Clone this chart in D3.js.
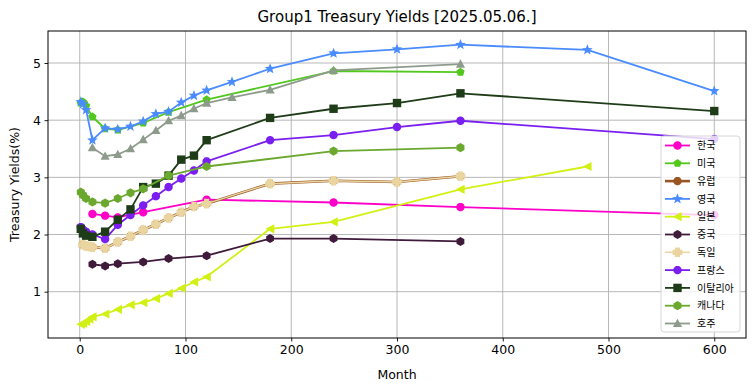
<!DOCTYPE html>
<html>
<head>
<meta charset="utf-8">
<script src="https://cdn.jsdelivr.net/npm/d3@7"></script>
<style>
html,body{margin:0;padding:0;background:#fff;}
svg{display:block;font-family:"DejaVu Sans",sans-serif;}
</style>
</head>
<body>
<svg id="chart" width="755" height="391"></svg>
<script>
// ---- data (months to maturity, yield %) ----
const koreaMonths = [12,24,36,60,120,240,360,600];
const koreaYields = [2.36,2.33,2.30,2.39,2.61,2.56,2.48,2.34];

const usMonths = [1,2,3,4,6,12,24,36,60,84,120,240,360];
const usYields = [4.30,4.32,4.32,4.30,4.25,4.06,3.85,3.83,3.95,4.14,4.36,4.86,4.84];

const euMonths = [3,6,9,12,24,36,48,60,72,84,96,108,120,180,240,300,360];
const euYields = [1.82,1.80,1.79,1.78,1.76,1.87,1.97,2.08,2.18,2.29,2.39,2.49,2.54,2.89,2.94,2.92,3.02];

const ukMonths = [1,3,6,12,24,36,48,60,72,84,96,108,120,144,180,240,300,360,480,600];
const ukYields = [4.32,4.28,4.18,3.65,3.86,3.84,3.89,3.98,4.11,4.15,4.31,4.43,4.52,4.67,4.90,5.17,5.24,5.32,5.23,4.51];

const japanMonths = [1,3,6,9,12,24,36,48,60,72,84,96,108,120,180,240,360,480];
const japanYields = [0.43,0.45,0.48,0.52,0.56,0.61,0.69,0.77,0.81,0.88,0.97,1.06,1.17,1.26,2.10,2.22,2.79,3.19];

const chinaMonths = [12,24,36,60,84,120,180,240,360];
const chinaYields = [1.48,1.45,1.49,1.52,1.58,1.63,1.93,1.93,1.88];

const germanyMonths = [3,6,9,12,24,36,48,60,72,84,96,108,120,180,240,300,360];
const germanyYields = [1.82,1.80,1.79,1.78,1.76,1.87,1.97,2.08,2.18,2.29,2.39,2.49,2.54,2.89,2.94,2.92,3.02];

const franceMonths = [1,3,6,12,24,36,48,60,72,84,96,108,120,180,240,300,360,600];
const franceYields = [2.13,2.09,2.05,2.00,1.92,2.17,2.34,2.51,2.67,2.83,2.98,3.12,3.28,3.65,3.74,3.88,3.99,3.67];

const italyMonths = [1,3,6,12,24,36,48,60,72,84,96,108,120,180,240,300,360,600];
const italyYields = [2.10,2.02,1.98,1.96,2.05,2.26,2.44,2.83,2.89,3.03,3.31,3.38,3.65,4.04,4.20,4.30,4.47,4.16];

const canadaMonths = [1,3,6,12,24,36,48,60,84,120,240,360];
const canadaYields = [2.74,2.69,2.63,2.57,2.55,2.63,2.73,2.80,3.03,3.19,3.46,3.52];

const australiaMonths = [12,24,36,48,60,72,84,96,108,120,144,180,240,360];
const australiaYields = [3.52,3.37,3.40,3.50,3.66,3.82,3.99,4.08,4.20,4.30,4.40,4.53,4.87,4.98];

const seriesNames = ["한국","미국","유럽","영국","일본","중국","독일","프랑스","이탈리아","캐나다","호주"];
const xTicks = [0,100,200,300,400,500,600];
const yTicks = [1,2,3,4,5];
const titleText = "Group1 Treasury Yields [2025.05.06.]";

// ---- styles ----
const colors = ["#ff00c8","#52c81e","#995522","#4a8cff","#d2f014","#3f1a3a","#ead5a0","#7a1ff0","#1e3c18","#6aa82e","#8e9b8c"];
const markers = ["circle","pentagon","circle","star","tleft","hexagon","plus","circle","square","hexagon2","tup"];
const lineWidths = [1.8,1.8,2.6,1.8,1.8,1.8,1.5,1.8,1.8,1.8,1.8];

const series = [
  [koreaMonths,koreaYields],[usMonths,usYields],[euMonths,euYields],[ukMonths,ukYields],
  [japanMonths,japanYields],[chinaMonths,chinaYields],[germanyMonths,germanyYields],
  [franceMonths,franceYields],[italyMonths,italyYields],[canadaMonths,canadaYields],
  [australiaMonths,australiaYields]
].map((s,i)=>({name:seriesNames[i], color:colors[i], marker:markers[i], lw:lineWidths[i],
  pts:s[0].map((m,j)=>({x:m,y:s[1][j]}))}));

// ---- layout ----
const W=755,H=391;
const m={left:48,right:9,top:31,bottom:53};
const pw=W-m.left-m.right, ph=H-m.top-m.bottom;
const svg=d3.select("#chart");

const x=d3.scaleLinear().domain([-30,630]).range([m.left,m.left+pw]);
const y=d3.scaleLinear().domain([0.19,5.56]).range([m.top+ph,m.top]);

function poly(n,r,rot){
  const p=[];
  for(let k=0;k<n;k++){const a=rot+k*2*Math.PI/n;p.push([r*Math.cos(a),r*Math.sin(a)]);}
  return "M"+p.map(q=>q[0].toFixed(2)+","+q[1].toFixed(2)).join("L")+"Z";
}
function star(ro,ri){
  const p=[];
  for(let k=0;k<10;k++){const r=k%2?ri:ro;const a=-Math.PI/2+k*Math.PI/5;p.push([r*Math.cos(a),r*Math.sin(a)]);}
  return "M"+p.map(q=>q[0].toFixed(2)+","+q[1].toFixed(2)).join("L")+"Z";
}
function markerPath(t){
  switch(t){
    case "circle": return poly(40,4.2,0);
    case "pentagon": return poly(5,4.4,-Math.PI/2);
    case "star": return star(5.6,2.4);
    case "tleft": return "M-4.6,0L4.2,-4.6L4.2,4.6Z";
    case "tup": return "M0,-4.8L4.6,3.6L-4.6,3.6Z";
    case "hexagon": return poly(6,4.5,-Math.PI/2);
    case "hexagon2": return poly(6,4.6,-Math.PI/2);
    case "square": return "M-4.2,-4.2L4.2,-4.2L4.2,4.2L-4.2,4.2Z";
    case "plus": {const a=4.8,b=2.6;return `M${-b},${-a}L${b},${-a}L${b},${-b}L${a},${-b}L${a},${b}L${b},${b}L${b},${a}L${-b},${a}L${-b},${b}L${-a},${b}L${-a},${-b}L${-b},${-b}Z`;}
  }
}

// ---- grid ----
const grid=svg.append("g");
grid.selectAll(".gx").data(xTicks).enter().append("line")
  .attr("x1",d=>x(d)).attr("x2",d=>x(d)).attr("y1",m.top).attr("y2",m.top+ph)
  .attr("stroke","#b0b0b0").attr("stroke-width",0.9);
grid.selectAll(".gy").data(yTicks).enter().append("line")
  .attr("y1",d=>y(d)).attr("y2",d=>y(d)).attr("x1",m.left).attr("x2",m.left+pw)
  .attr("stroke","#b0b0b0").attr("stroke-width",0.9);

// ---- series ----
svg.append("clipPath").attr("id","clip").append("rect")
  .attr("x",m.left).attr("y",m.top).attr("width",pw).attr("height",ph);
const plot=svg.append("g").attr("clip-path","url(#clip)");
const line=d3.line().x(d=>x(d.x)).y(d=>y(d.y));
series.forEach(s=>{
  const g=plot.append("g");
  g.append("path").attr("d",line(s.pts)).attr("fill","none")
    .attr("stroke",s.color).attr("stroke-width",s.lw).attr("stroke-linejoin","round");
  g.selectAll("path.mk").data(s.pts).enter().append("path").attr("class","mk")
    .attr("d",markerPath(s.marker))
    .attr("transform",d=>`translate(${x(d.x)},${y(d.y)})`)
    .attr("fill",s.color);
});

// ---- axes ----
const xa=svg.append("g").attr("transform",`translate(0,${m.top+ph})`)
  .call(d3.axisBottom(x).tickValues(xTicks).tickSize(3.5).tickPadding(3.5).tickFormat(d3.format("d")));
const ya=svg.append("g").attr("transform",`translate(${m.left},0)`)
  .call(d3.axisLeft(y).tickValues(yTicks).tickSize(3.5).tickPadding(3.5).tickFormat(d3.format("d")));
[xa,ya].forEach(a=>{
  a.select(".domain").remove();
  a.selectAll("text").attr("font-size","12.5px").attr("fill","#000").attr("font-family","DejaVu Sans");
  a.selectAll("line").attr("stroke","#000").attr("stroke-width",0.9);
});
svg.append("rect").attr("x",m.left).attr("y",m.top).attr("width",pw).attr("height",ph)
  .attr("fill","none").attr("stroke","#000").attr("stroke-width",1);

// ---- labels ----
svg.append("text").attr("x",m.left+pw/2).attr("y",22).attr("text-anchor","middle")
  .attr("font-size","15px").text(titleText);
svg.append("text").attr("x",m.left+pw/2).attr("y",379).attr("text-anchor","middle")
  .attr("font-size","12.5px").text("Month");
svg.append("text").attr("transform",`translate(19,${m.top+ph/2}) rotate(-90)`).attr("text-anchor","middle")
  .attr("font-size","12.5px").text("Treasury Yields(%)");

// ---- legend ----
const lg=svg.append("g");
const lx=661, ly=136, lw=79, lh=196, step=17.8;
lg.append("rect").attr("x",lx).attr("y",ly).attr("width",lw).attr("height",lh).attr("rx",3)
  .attr("fill","#fff").attr("fill-opacity",0.8).attr("stroke","#d6d6d6").attr("stroke-width",1);
series.forEach((s,i)=>{
  const cy=ly+9.5+i*step;
  lg.append("line").attr("x1",lx+4).attr("x2",lx+29).attr("y1",cy).attr("y2",cy)
    .attr("stroke",s.color).attr("stroke-width",s.lw);
  lg.append("path").attr("d",markerPath(s.marker)).attr("transform",`translate(${lx+16.5},${cy})`).attr("fill",s.color);
  lg.append("text").attr("x",lx+36).attr("y",cy+3.6).attr("font-size","10px")
    .attr("font-family","'Noto Sans CJK KR',sans-serif").text(s.name);
});
</script>
</body>
</html>
